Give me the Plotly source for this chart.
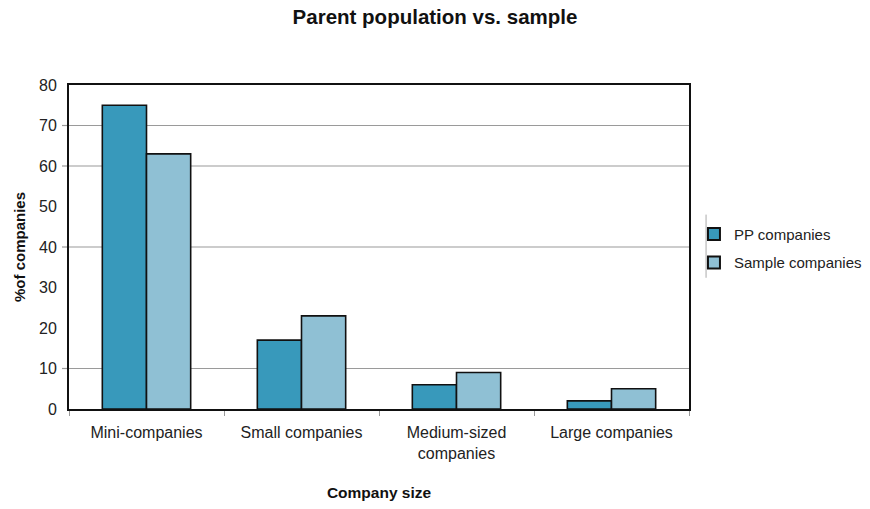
import plotly.graph_objects as go

# Share of companies by size class
categories = ["Mini-companies", "Small companies", "Medium-sized<br>companies", "Large companies"]
pp_companies = [75, 17, 6, 2]
sample_companies = [63, 23, 9, 5]

y_ticks = [0, 10, 20, 30, 40, 50, 60, 70, 80]
grid_values = [10, 40, 60, 70]

PP_COLOR = "#3899bb"
SAMPLE_COLOR = "#8fc0d4"
FONT = "Liberation Sans, Arial, sans-serif"

fig = go.Figure()
fig.add_trace(go.Bar(
    x=categories, y=pp_companies, name="PP companies", legendgroup="pp",
    marker=dict(color=PP_COLOR, line=dict(color="#111111", width=1.6)),
))
fig.add_trace(go.Bar(
    x=categories, y=sample_companies, name="Sample companies", legendgroup="sample",
    marker=dict(color=SAMPLE_COLOR, line=dict(color="#111111", width=1.6)),
))

# Horizontal gridlines behind the bars, with matching tick marks
shapes = []
for v in grid_values:
    shapes.append(dict(type="line", xref="paper", yref="y", x0=0, x1=1, y0=v, y1=v,
                       line=dict(color="#9a9a9a", width=1.2), layer="below"))
    shapes.append(dict(type="line", xref="paper", yref="y", x0=-7 / 620, x1=0, y0=v, y1=v,
                       line=dict(color="#9a9a9a", width=1.2), layer="below"))
# Thin separator to the left of the legend
shapes.append(dict(type="line", xref="paper", yref="paper", x0=1.0275, x1=1.0275,
                   y0=0.405, y1=0.6, line=dict(color="#aaaaaa", width=1)))

fig.update_layout(
    width=870, height=509,
    margin=dict(l=69, r=181, t=85, b=100, autoexpand=False),
    paper_bgcolor="white", plot_bgcolor="white",
    barmode="group", bargap=0.43, bargroupgap=0,
    font=dict(family=FONT, size=16, color="#222222"),
    title=dict(text="<b>Parent population vs. sample</b>", x=0.5, xanchor="center",
               y=0.966, yanchor="middle", font=dict(size=20.5, color="#111111")),
    showlegend=True,
    legend=dict(x=1.008, xanchor="left", y=0.59, yanchor="top",
                font=dict(size=15, color="#222222"), bgcolor="rgba(0,0,0,0)",
                itemsizing="constant", tracegroupgap=6),
    shapes=shapes,
)

fig.update_xaxes(
    showline=True, linecolor="#111111", linewidth=2, mirror=True,
    ticks="outside", tickson="boundaries", ticklen=5, tickcolor="#999999",
    tickfont=dict(size=16, color="#222222"), ticklabelstandoff=8,
    title=dict(text="<b>Company size</b>", font=dict(size=15.5, color="#111111"), standoff=26),
)
fig.update_yaxes(
    range=[0, 80], tickvals=y_ticks, ticktext=[str(t) for t in y_ticks],
    showgrid=False, zeroline=False,
    showline=True, linecolor="#111111", linewidth=2, mirror=True,
    ticks="outside", ticklen=7, tickcolor="rgba(0,0,0,0)",
    tickfont=dict(size=16, color="#222222"),
    title=dict(text="<b>%of companies</b>", font=dict(size=15, color="#111111"), standoff=10),
)

fig.write_html("out.html")
